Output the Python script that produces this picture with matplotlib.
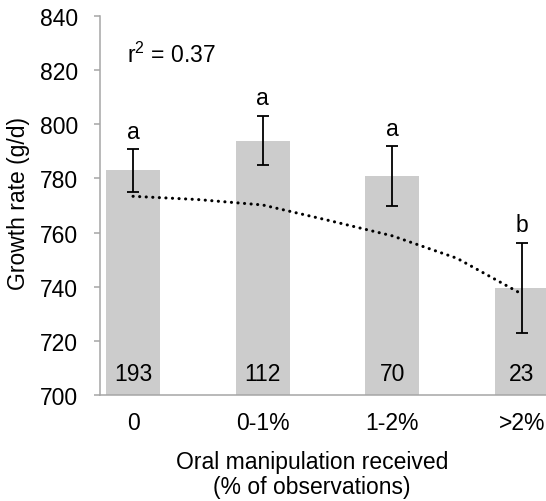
import matplotlib
matplotlib.use('Agg')
import numpy as np
import matplotlib.pyplot as plt

plt.rcParams['font.family'] = ['Liberation Sans', 'DejaVu Sans']
plt.rcParams['mathtext.fontset'] = 'custom'
plt.rcParams['mathtext.rm'] = 'Liberation Sans'

# data
categories = ['0', '0-1%', '1-2%', '>2%']
growth = [783, 794, 781, 739.4]
err_low = [7.9, 8.9, 11.1, 16.6]
err_high = [7.8, 9.2, 10.8, 16.7]
counts = ['193', '112', '70', '23']
letters = ['a', 'a', 'a', 'b']

# dotted trend line read at half-category steps
trend_x = [0, 0.5, 1, 1.5, 2, 2.5, 3]
trend_y = [773.4, 772.2, 770.2, 764.6, 758.8, 750.5, 737.3]

FS = 16.5

fig = plt.figure(figsize=(5.46, 5.02), dpi=100)
ax = fig.add_axes([100 / 546, 1 - 396 / 502, 1 - 100 / 546, (396 - 17) / 502])

x = np.arange(len(categories))
ax.bar(x, [g - 700 for g in growth], bottom=700, width=0.417, color='#cccccc', zorder=1)
ax.errorbar(x, growth, yerr=[err_low, err_high], fmt='none', ecolor='black',
            elinewidth=1.3, capsize=4, capthick=1.3, zorder=3)
ax.plot(trend_x, trend_y, color='black', linestyle=(0, (0.05, 2.1)), lw=2.2,
        dash_capstyle='round', solid_joinstyle='round', zorder=2)

for xi, g, eh, lab, n in zip(x, growth, err_high, letters, counts):
    ax.text(xi, g + eh + 4.3, lab, ha='center', va='baseline', fontsize=FS)
    ax.text(xi, 708, n, ha='center', va='center', fontsize=FS)

ax.text(-0.05, 826, r'r$^\mathrm{2}$ = 0.37', fontsize=FS, va='center', ha='left')

ax.set_xlim(-0.255, 3.187)
ax.set_ylim(700, 840)
ax.set_yticks(np.arange(700, 841, 20))
ax.set_xticks(x)
ax.set_xticklabels(categories)

for s in ['top', 'right']:
    ax.spines[s].set_visible(False)
for s in ['left', 'bottom']:
    ax.spines[s].set_color('#a6a6a6')
    ax.spines[s].set_linewidth(1.1)

ax.tick_params(axis='y', length=4.3, width=1.1, color='#a6a6a6', pad=11.5, labelsize=FS)
ax.tick_params(axis='x', length=0, pad=11.5, labelsize=FS)

fig.text(18.5 / 546, 1 - 204 / 502, 'Growth rate (g/d)', rotation=90, ha='center', va='center',
         fontsize=FS)
fig.text(312 / 546, 1 - 463 / 502, 'Oral manipulation received', ha='center', va='center',
         fontsize=FS)
fig.text(312 / 546, 1 - 488 / 502, '(% of observations)', ha='center', va='center',
         fontsize=FS)

fig.savefig('out.png', dpi=100)
plt.close(fig)
